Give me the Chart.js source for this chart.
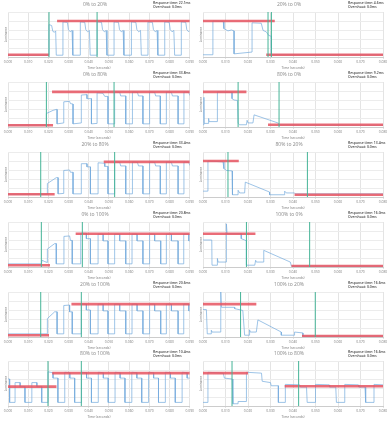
<!DOCTYPE html>
<html>
<head>
<meta charset="utf-8">
<script src="https://cdn.jsdelivr.net/npm/chart.js@4.4.0/dist/chart.umd.min.js"></script>
<style>
  body { margin: 0; background: #fff; width: 390px; height: 421px; position: relative; overflow: hidden; }
  .panel { position: absolute; width: 195px; height: 70px; }
</style>
</head>
<body>
<div id="grid"></div>
<script>
// panel titles and readouts
const titles = ["0% to 20%", "20% to 0%", "0% to 80%", "80% to 0%", "20% to 80%", "80% to 20%",
  "0% to 100%", "100% to 0%", "20% to 100%", "100% to 20%", "80% to 100%", "100% to 80%"];
const responseTimes = ["22.1ms", "4.6ms", "33.8ms", "9.2ms", "33.4ms", "13.4ms",
  "20.8ms", "16.0ms", "20.6ms", "16.6ms", "10.4ms", "16.6ms"];
const overshoots = ["0.0ms", "0.0ms", "0.0ms", "0.0ms", "0.0ms", "0.0ms",
  "0.0ms", "0.0ms", "0.0ms", "0.0ms", "0.0ms", "0.0ms"];

// x axis (ms) per column
const tickLabelsLeft = ["0.000", "0.010", "0.020", "0.030", "0.040", "0.050", "0.060", "0.070", "0.080", "0.090"];
const tickLabelsRight = ["0.000", "0.010", "0.020", "0.030", "0.040", "0.050", "0.060", "0.070", "0.080"];

// luminance traces: [ms, luminance %]
const trace1 = [[0,4],[20.3,4],[20.3,72],[21.6,70],[22.2,57],[23.0,55],[23.6,58],[23.9,4],
  [27.2,4],[27.2,78],[29.4,77],[29.9,61],[30.8,56],[31.7,59],[32.1,4],
  [35.8,4],[35.8,78],[38.0,77],[38.5,61],[39.4,56],[40.3,59],[40.7,4],
  [44.1,4],[44.1,78],[46.3,77],[46.8,61],[47.7,56],[48.6,59],[49.0,4],
  [52.5,4],[52.5,78],[54.7,77],[55.2,61],[56.1,56],[57.0,59],[57.4,4],
  [61.1,4],[61.1,78],[63.3,77],[63.8,61],[64.7,56],[65.6,59],[66.0,4],
  [69.3,4],[69.3,78],[71.5,77],[72.0,61],[72.9,56],[73.8,59],[74.2,4],
  [77.6,4],[77.6,78],[79.8,77],[80.3,61],[81.2,56],[82.1,59],[82.5,4],
  [85.8,4],[85.8,78],[88.0,77],[88.5,61],[89.4,56],[90,59]];
const trace2 = [[0,5],[4.4,5],[4.4,80],[9.0,79],[9.3,63],[11.1,58],[12.6,60],[13.8,58],[13.8,7],
  [21.8,11],[21.8,76],[25.9,75],[26.7,59],[28.1,56],[29.2,48],[30.4,46],[30.4,5],[80,5]];
const trace3 = [[0,4],[19.0,4],[19.0,30],[22.3,37],[23.9,39],[24.3,39],[24.3,7],[27.6,9],
  [27.6,56],[30.5,57],[30.9,52],[32.2,51],[32.2,7],[36.3,9],[36.3,71],[39.1,72],[39.1,63],[41.3,63],[41.3,7],
  [44.1,8],[44.1,76],[47.0,75],[47.9,68],[49.5,68],[49.5,7],[52.8,7],[52.8,78],[55.3,77],[55.8,69],[58.3,69],[58.3,7],
  [61.6,7],[61.6,78],[64.1,77],[64.6,69],[66.8,69],[66.8,7],[70.1,7],[70.1,78],[72.6,77],[73.1,69],[75.4,69],[75.4,7],
  [78.4,7],[78.4,78],[80.9,77],[81.4,69],[84.2,69],[84.2,7],[87.1,7],[87.1,78],[89.5,77],[90,70]];
const trace4 = [[0,5],[0.4,5],[0.4,66],[0.5,8],[2.5,8],[2.5,19],[2.7,12],[6.4,12],[6.4,78],[12.9,77],
  [12.9,63],[13.8,60],[15.3,59],[15.6,8],[16.3,5],[19.3,5],[19.6,15],[20,9],[22.2,9],[22.7,27],[33.3,9],[33.8,5],[80,4]];
const trace5 = [[0,6],[19.5,6],[19.5,30],[23.9,43],[24.8,43],[24.8,7],[27.6,8],[27.6,59],[30.5,60],[30.9,55],[32.2,55],[32.2,7],
  [36.3,7],[36.3,74],[39.1,74],[39.1,67],[40.8,67],[40.8,7],[44.6,7],[44.6,76],[47.9,75],[47.9,68],[49.5,68],[49.5,7],
  [52.8,7],[52.8,78],[55.3,77],[55.8,69],[58.3,69],[58.3,7],[61.6,7],[61.6,78],[64.1,77],[64.6,69],[66.8,69],[66.8,7],
  [70.1,7],[70.1,78],[72.6,77],[73.1,69],[75.4,69],[75.4,7],[78.4,7],[78.4,78],[80.9,77],[81.4,69],[84.2,69],[84.2,7],
  [87.1,7],[87.1,78],[89.5,77],[90,70]];
const trace6 = [[0,13],[1.9,13],[2.2,80],[8.9,78],[9.3,63],[10.4,59],[12.9,58],[12.9,11],[13.3,5],[15.6,5],[15.6,15],
  [16.3,9],[18.5,9],[18.8,33],[29.6,11],[29.6,5],[36.0,5],[36.3,13],[37,9],[40.7,9],[41,7],[80,7]];
const trace7 = [[0,7],[16.5,7],[16.9,15],[18.2,12],[19.5,10],[19.5,40],[23.1,52],[23.9,52],[23.9,7],[27.7,7],
  [27.7,68],[30.5,69],[30.9,59],[31.8,59],[31.8,7],[36.0,7],[36.0,75],[38.8,75],[38.8,63],[40.8,63],[40.8,7],
  [44.6,7],[44.6,73],[47.1,73],[47.1,58],[49.5,58],[49.5,7],[52.8,7],[52.8,73],[55.3,73],[55.3,58],[58.3,58],[58.3,7],
  [61.4,7],[61.4,73],[63.9,73],[63.9,58],[66.8,58],[66.8,7],[70.1,7],[70.1,73],[72.6,73],[72.6,58],[75.6,58],[75.6,7],
  [78.4,7],[78.4,73],[80.9,73],[80.9,58],[84.2,58],[84.2,7],[87.0,7],[87.0,73],[89.5,73],[89.5,58],[90,58]];
const trace8 = [[0,60],[3.9,60],[4.0,4],[6.4,4],[6.4,19],[6.7,11],[10.4,11],[10.4,96],[10.7,74],[17,74],[17.0,63],
  [18.5,60],[19.3,58],[19.3,4],[23.0,4],[23.4,15],[23.7,11],[26.7,11],[27,37],[38.8,11],[39.3,2],[80,2]];
const trace9 = [[0,7],[19.5,7],[19.5,41],[23.1,56],[24.3,56],[24.3,7],[27.6,7],[27.6,70],[30.5,71],[30.5,56],[31.8,56],[31.8,7],
  [36.3,7],[36.3,73],[38.8,73],[38.8,60],[40.8,60],[40.8,7],[44.6,7],[44.6,73],[47.1,73],[47.1,58],[49.5,58],[49.5,7],
  [52.8,7],[52.8,73],[55.3,73],[55.3,58],[58.3,58],[58.3,7],[61.4,7],[61.4,73],[63.9,73],[63.9,58],[66.8,58],[66.8,7],
  [70.1,7],[70.1,73],[72.6,73],[72.6,58],[75.6,58],[75.6,7],[78.4,7],[78.4,73],[80.9,73],[80.9,58],[84.2,58],[84.2,7],
  [87.0,7],[87.0,73],[89.5,73],[89.5,58],[90,58]];
const trace10 = [[0,61],[1.5,61],[1.9,7],[3.7,7],[3.7,15],[4,11],[7.9,11],[7.9,100],[8.2,66],[14,66],[14.1,63],
  [17.7,59],[18.5,4],[20.7,4],[20.7,16],[21,11],[23.7,11],[24.4,38],[34.8,11],[34.8,4],[40.7,4],[40.7,11],[44.4,9],[44.4,2],[80,2]];
const trace11 = [[0,60],[0.8,60],[0.8,8],[3.5,8],[3.5,52],[6,52],[6,43],[8.4,43],[8.4,8],[11.8,8],[11.8,52],
  [14.3,52],[14.3,43],[16.7,43],[16.7,8],[19.8,8],[19.8,76],[22.3,74],[22.3,62],[24.7,62],[24.7,8],
  [28.1,8],[28.1,75],[30.6,74],[30.6,62],[33.0,62],[33.0,8],[36.4,8],[36.4,75],[38.9,74],[38.9,62],[41.3,62],[41.3,8],
  [44.7,8],[44.7,75],[47.2,74],[47.2,62],[49.6,62],[49.6,8],[53.0,8],[53.0,75],[55.5,74],[55.5,62],[57.9,62],[57.9,8],
  [61.3,8],[61.3,75],[63.8,74],[63.8,62],[66.2,62],[66.2,8],[69.6,8],[69.6,75],[72.1,74],[72.1,62],[74.5,62],[74.5,8],
  [77.9,8],[77.9,75],[80.4,74],[80.4,62],[82.8,62],[82.8,8],[86.2,8],[86.2,75],[88.7,74],[88.7,62],[90,62]];
const trace12 = [[0,8],[2.2,8],[2.2,75],[9,73],[9.5,62],[13,60],[13.3,5],[15.6,5],[15.6,10],[19.3,10],[19.3,75],
  [26,73],[26.3,55],[30,52],[30.3,45],[33.5,45],[33.5,8],[36.6,8],[36.6,48],[43,47],[43.3,42],[46,42],[46.3,8],
  [50,8],[50,48],[56,47],[56.3,42],[59,42],[59.3,8],[63,8],[63,48],[69,47],[69.3,42],[72,42],[72.3,8],[76,8],[76,48],[80,47]];

const traces = [trace1, trace2, trace3, trace4, trace5, trace6, trace7, trace8, trace9, trace10, trace11, trace12];

// red target levels: [start ms, end ms, luminance]
const targetFrom = [[0,20.3,5],[0,31.9,80],[0,22.3,4],[0,19.3,78],[0,23.1,6],[0,15.9,80],
  [0,20.8,4],[0,23.3,74],[0,20.3,4],[0,23.7,73],[0,24.0,43],[0,20.0,73]];
const targetTo = [[24.3,90,80],[28.1,80,5],[21.8,90,78],[28.9,80,5],[47.4,90,78],[40.7,80,5],
  [33.5,90,74],[39.3,80,2],[31.4,90,73],[44.0,80,2],[21.9,90,73],[36.3,80,44]];
// green markers: transition start / end (ms)
const markers = [[20.3,44.1],[28.9,30.4],[19.0,52.5],[15.6,33.8],[16.2,52.8],[11.1,46.4],
  [16.5,36.8],[19.3,47.4],[16.2,36.3],[16.7,49.9],[19.8,36.3],[12.9,42.5]];

const rowTops = [0, 70, 140, 210, 280, 349];

const readout = {
  id: "readout",
  afterDraw(chart, args, opts) {
    const ctx = chart.ctx;
    ctx.save();
    ctx.fillStyle = "#444";
    ctx.font = "600 3.4px 'Open Sans', sans-serif";
    ctx.textAlign = "left";
    ctx.textBaseline = "middle";
    ctx.fillText("Response time: " + opts.rt, chart.width - 42, 3);
    ctx.fillText("Overshoot: " + opts.os, chart.width - 42, 7);
    ctx.restore();
  }
};

const grid = document.getElementById("grid");
for (let i = 0; i < 12; i++) {
  const col = i % 2;
  const row = Math.floor(i / 2);
  const div = document.createElement("div");
  div.className = "panel";
  div.style.left = (col * 195) + "px";
  div.style.top = rowTops[row] + "px";
  const canvas = document.createElement("canvas");
  canvas.width = 195;
  canvas.height = 70;
  div.appendChild(canvas);
  grid.appendChild(div);

  const xMax = col === 0 ? 90 : 80;
  const labels = col === 0 ? tickLabelsLeft : tickLabelsRight;
  const f = targetFrom[i], t = targetTo[i], m = markers[i];

  new Chart(canvas, {
    type: "line",
    data: {
      datasets: [
        {
          data: [{x: m[0], y: 0}, {x: m[0], y: 100}, {x: m[0], y: null}, {x: m[1], y: 0}, {x: m[1], y: 100}],
          borderColor: "#45b497",
          borderWidth: 1,
          spanGaps: false,
        },
        {
          data: [{x: f[0], y: f[2]}, {x: f[1], y: f[2]}, {x: f[1], y: null}, {x: t[0], y: t[2]}, {x: t[1], y: t[2]}],
          borderColor: "rgba(230,84,96,0.85)",
          borderWidth: 2.6,
          spanGaps: false,
        },
        {
          data: traces[i].map((p) => ({x: p[0], y: p[1]})),
          borderColor: "#74abdc",
          borderWidth: 0.7,
        },
      ],
    },
    options: {
      responsive: false,
      animation: false,
      devicePixelRatio: 1,
      layout: { padding: { left: 0, right: col === 0 ? 5 : 7, top: 0, bottom: 0 } },
      elements: { point: { radius: 0 }, line: { tension: 0 } },
      plugins: {
        legend: { display: false },
        tooltip: { enabled: false },
        title: {
          display: true,
          text: titles[i],
          color: "#888",
          font: { size: 5, family: "'Open Sans', sans-serif", weight: "normal" },
          padding: { top: 2, bottom: 4 },
        },
        readout: { rt: responseTimes[i], os: overshoots[i] },
      },
      scales: {
        x: {
          type: "linear",
          min: 0,
          max: xMax,
          ticks: {
            stepSize: 10,
            autoSkip: false,
            maxRotation: 0,
            padding: 1,
            color: "#777",
            font: { size: 3.3, family: "'Open Sans', sans-serif" },
            callback: (v, idx) => labels[idx],
          },
          grid: { color: "#e4e4e4", tickLength: 2 },
          border: { color: "#ccc" },
          title: {
            display: true,
            text: "Time (seconds)",
            color: "#777",
            font: { size: 3.3, family: "'Open Sans', sans-serif" },
            padding: 0,
          },
          afterFit(s) { s.height = 13; },
        },
        y: {
          min: 0,
          max: 100,
          ticks: { display: false, stepSize: 20 },
          grid: { color: "#ececec", drawTicks: false },
          border: { display: false },
          title: {
            display: true,
            text: "Luminance",
            color: "#777",
            font: { size: 3, family: "'Open Sans', sans-serif" },
            padding: { top: 4, bottom: 0 },
          },
          afterFit(s) { s.width = 8; },
        },
      },
    },
    plugins: [readout],
  });
}
</script>
</body>
</html>
